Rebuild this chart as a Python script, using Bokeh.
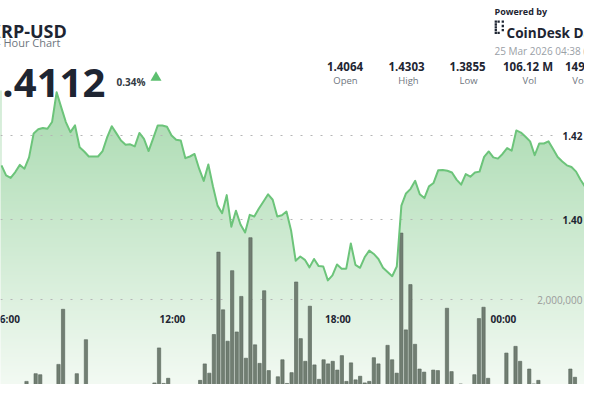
import numpy as np
from bokeh.plotting import figure
from bokeh.models import Range1d
from bokeh.core.properties import value
from bokeh.embed import file_html
from bokeh.resources import INLINE

# ---------------- data ----------------
symbol = "XRP-USD"
subtitle = "24 Hour Chart"
last_price = "1.4112"
change_pct = "0.34%"
stat_values = ["1.4064", "1.4303", "1.3855", "106.12 M", "149.29 M"]
stat_labels = ["Open", "High", "Low", "Vol", "Vol USD"]
powered = "Powered by"
brand = "CoinDesk Data"
timestamp = "25 Mar 2026 04:38 (GMT)"

x_tick_minutes = [0, 360, 720, 1080]          # minutes after 06:00
x_tick_labels = ["06:00", "12:00", "18:00", "00:00"]
price_ticks = [1.40, 1.42]
price_tick_labels = ["1.40", "1.42"]
vol_ticks = [2000000]
vol_tick_labels = ["2,000,000"]

# price every 10 minutes, first point at 05:48
price_first_minute = -12
price = [
    1.4129, 1.4105, 1.4099, 1.4113, 1.4130, 1.4121, 1.4148, 1.4205, 1.4215, 1.4218,
    1.4216, 1.4232, 1.4303, 1.4267, 1.4232, 1.4208, 1.4224, 1.4172, 1.4162, 1.4150,
    1.4150, 1.4150, 1.4163, 1.4196, 1.4222, 1.4205, 1.4188, 1.4178, 1.4179, 1.4174,
    1.4206, 1.4192, 1.4163, 1.4193, 1.4224, 1.4224, 1.4221, 1.4200, 1.4190, 1.4188,
    1.4146, 1.4150, 1.4156, 1.4121, 1.4092, 1.4131, 1.4079, 1.4033, 1.4015, 1.4058,
    1.3983, 1.4021, 1.3988, 1.3969, 1.4011, 1.4007, 1.4026, 1.4043, 1.4060, 1.4047,
    1.4007, 1.4010, 1.4019, 1.3974, 1.3902, 1.3912, 1.3904, 1.3886, 1.3906, 1.3889,
    1.3888, 1.3855, 1.3867, 1.3893, 1.3883, 1.3883, 1.3943, 1.3892, 1.3885, 1.3910,
    1.3926, 1.3918, 1.3906, 1.3885, 1.3875, 1.3865, 1.3888, 1.4033, 1.4062, 1.4073,
    1.4092, 1.4060, 1.4051, 1.4079, 1.4087, 1.4117, 1.4118, 1.4116, 1.4112, 1.4095,
    1.4083, 1.4108, 1.4102, 1.4112, 1.4114, 1.4149, 1.4162, 1.4148, 1.4145, 1.4156,
    1.4170, 1.4164, 1.4212, 1.4207, 1.4197, 1.4186, 1.4153, 1.4181, 1.4181, 1.4186,
    1.4168, 1.4149, 1.4138, 1.4129, 1.4125, 1.4114, 1.4094, 1.4077, 1.4073, 1.4098,
    1.4119, 1.4133,
]

# volume per 10-minute bar, millions
volume_m = [
    0.35, 0.12, 0.06, 0.41, 0.27, 0.56, 0.54, 0.14, 0.34, 0.08,
    0.74, 1.81, 0.30, 0.14, 0.56, 0.09, 1.22, 0.17, 0.17, 0.17,
    0.19, 0.28, 0.28, 0.12, 0.28, 0.25, 0.17, 0.10, 0.31, 0.25,
    0.33, 0.38, 1.06, 0.37, 0.47, 0.21, 0.34, 0.10, 0.28, 0.16,
    0.33, 0.43, 0.75, 0.57, 1.32, 2.92, 1.80, 1.19, 2.56, 1.37,
    2.06, 0.86, 3.20, 1.12, 0.76, 2.17, 0.62, 0.35, 0.50, 0.83,
    0.37, 0.58, 2.34, 1.24, 0.80, 1.87, 0.73, 0.45, 0.83, 0.75,
    0.80, 0.63, 0.91, 0.41, 0.77, 0.44, 0.51, 0.38, 0.41, 0.87,
    0.75, 0.29, 1.11, 0.83, 0.57, 3.29, 1.41, 2.29, 1.13, 0.65,
    0.59, 0.35, 0.63, 0.62, 0.29, 1.83, 0.60, 0.32, 0.36, 0.18,
    0.17, 0.54, 1.63, 1.85, 0.47, 0.17, 0.06, 0.17, 0.96, 0.26,
    1.09, 0.80, 0.27, 0.65, 0.36, 0.43, 0.19, 0.19, 0.10, 0.31,
    0.25, 0.22, 0.65, 0.49, 0.19, 0.14, 0.41, 0.09, 0.27,
]

# ---------------- layout helpers (picture pixel -> data) ----------------
W, H = 584, 384


def xm(px):  # picture px -> minutes after 06:00
    return (px - 6.5) * 60.0 / 27.58


def yp(py):  # picture px -> price
    return 1.40 + (219.0 - py) / 4200.0


def yv(py):  # picture px -> volume
    return (402.0 - py) * 2e6 / 103.0


def xb(px):  # picture px -> bar index
    return (px - 12.3) / 4.5703


price_x = [price_first_minute + 10 * k for k in range(len(price))]
volume = [v * 1e6 for v in volume_m]
bar_x = list(range(len(volume)))

p = figure(width=W, height=H, output_backend="svg", toolbar_location=None,
           x_range=Range1d(xm(0), xm(W)), y_range=Range1d(yp(H), yp(0)), min_border=0)
p.extra_y_ranges = {"vol": Range1d(yv(H), yv(0))}
p.extra_x_ranges = {"bars": Range1d(xb(0), xb(W))}
p.axis.visible = False
p.grid.visible = False
p.outline_line_color = None
p.background_fill_color = "white"
p.border_fill_color = "white"

# gradient under the price line
top_y, bot_y = 90, H
n = int(bot_y - top_y)
top_c = np.array([168, 218, 175], dtype=float)
bot_c = np.array([243, 250, 243], dtype=float)
t = np.linspace(0, 1, n)[:, None]  # 0 bottom, 1 top
cols = bot_c + (top_c - bot_c) * t
img = np.empty((n, 2), dtype=np.uint32)
view = img.view(dtype=np.uint8).reshape((n, 2, 4))
view[:, :, 0] = cols[:, 0:1].astype(np.uint8)
view[:, :, 1] = cols[:, 1:2].astype(np.uint8)
view[:, :, 2] = cols[:, 2:3].astype(np.uint8)
view[:, :, 3] = 255
p.image_rgba(image=[img], x=xm(-2), y=yp(bot_y), dw=xm(W + 2) - xm(-2),
             dh=yp(top_y) - yp(bot_y))
# white above the line
p.varea(x=price_x, y1=price, y2=yp(-20), fill_color="white", fill_alpha=1.0)

# dotted grid lines
p.segment(x0=[xm(0)] * len(price_ticks), x1=[xm(560)] * len(price_ticks),
          y0=price_ticks, y1=price_ticks, line_color="#b5b5b5", line_width=1.2,
          line_dash="2 8")
p.segment(x0=[xm(0)] * len(vol_ticks), x1=[xm(530)] * len(vol_ticks),
          y0=vol_ticks, y1=vol_ticks, y_range_name="vol", line_color="#b5b5b5",
          line_width=1.2, line_dash="2 8")

# volume bars
p.vbar(x=bar_x, width=0.72, top=volume, bottom=0, x_range_name="bars", y_range_name="vol",
       fill_color="#717e72", line_color="#58645a", line_width=0.6)

# price line
p.line(price_x, price, line_color="#6cc47a", line_width=2, line_join="round")

FONT = value("Open Sans")
DARK = "#1e2532"
GRAY = "#6f7680"


def put(xs, ys, texts, size, color, bold=False, align="left", baseline="alphabetic"):
    p.text(x=[xm(v) for v in xs], y=[yp(v) for v in ys], text=texts, text_font=FONT,
           text_font_size=size, text_font_style="bold" if bold else "normal",
           text_color=color, text_align=align, text_baseline=baseline)


# axis labels
put([6.5 + m * 27.58 / 60 for m in x_tick_minutes], [318] * 4, x_tick_labels, "10px", DARK,
    bold=True, align="center")
p.text(x=[xm(582)] * 2, y=price_ticks, text=price_tick_labels, text_font=FONT,
       text_font_size="10px", text_font_style="bold", text_color=DARK,
       text_align="right", text_baseline="middle")
p.text(x=[xm(582)], y=vol_ticks, text=vol_tick_labels, y_range_name="vol", text_font=FONT,
       text_font_size="10px", text_color="#9a9a9a", text_align="right",
       text_baseline="middle")

# header
put([-11.5], [30], [symbol], "18px", DARK, bold=True)
put([-12.5], [41.5], [subtitle], "11px", GRAY)
put([-21], [82], [last_price], "40px", DARK, bold=True)
put([116], [81], [change_pct], "10px", "#333a44", bold=True)
p.scatter(x=[xm(155.5)], y=[yp(77)], marker="triangle", size=11, fill_color="#5cbf6f",
          line_color=None)

put([344.5, 406, 467, 527.5, 589.5], [66] * 5, stat_values, "11.5px", DARK, bold=True,
    align="center")
put([345, 408, 468, 529, 589.5], [80] * 5, stat_labels, "9.5px", GRAY, align="center")

put([494], [11], [powered], "9px", DARK, bold=True)
put([506], [32], [brand], "13.6px", DARK, bold=True)
put([494], [50], [timestamp], "10px", "#9aa0a6")

# brand mark
lx = [495.3, 495.3, 495.3, 495.3, 495.3, 498.1, 498.1, 502.3, 502.3, 502.3]
ly = [21.2, 24.0, 26.8, 29.6, 32.4, 21.2, 32.4, 21.2, 25.5, 29.6]
p.rect(x=[xm(v) for v in lx], y=[yp(v) for v in ly], width=2.3, height=2.3,
       width_units="screen", height_units="screen", fill_color=DARK, line_color=None)

open("out.html", "w").write(file_html(p, INLINE))
